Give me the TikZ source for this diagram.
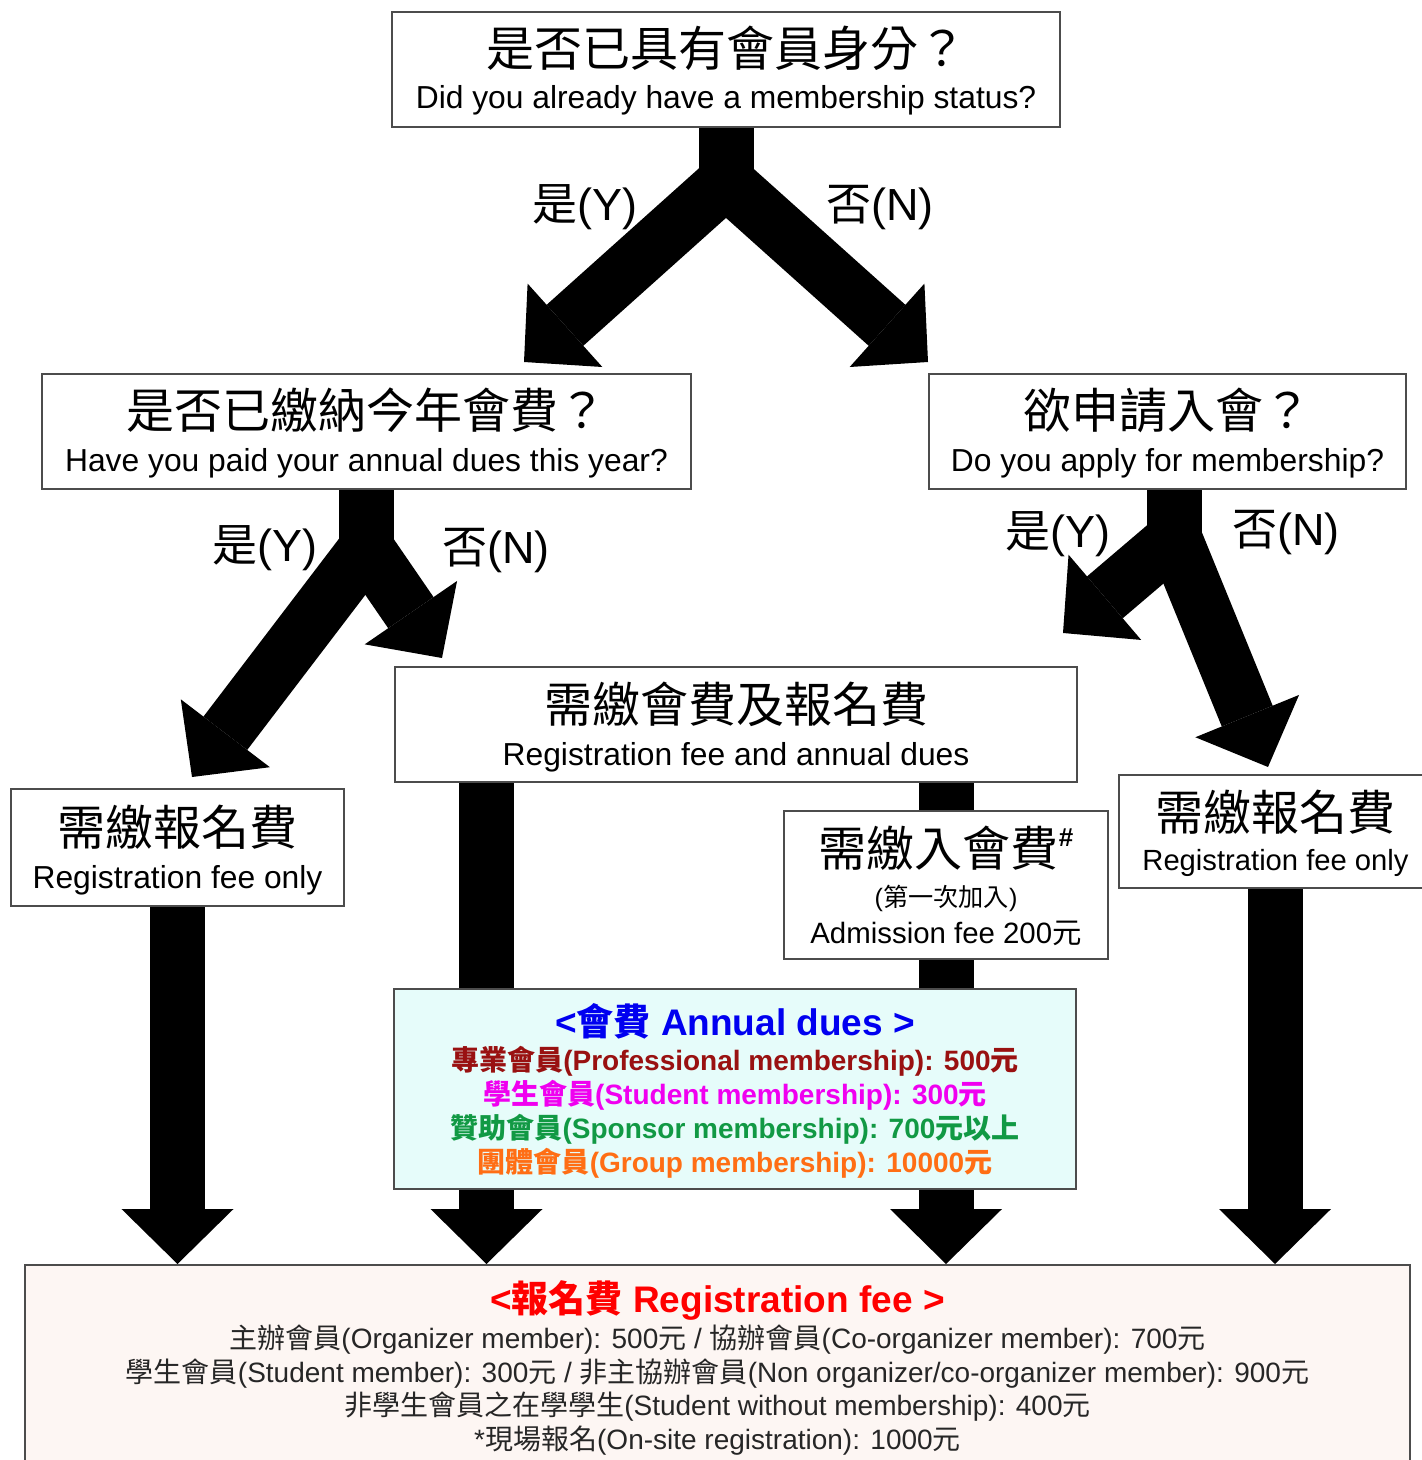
\documentclass[tikz,border=0pt]{standalone}
\usepackage{fontspec}
\setmainfont{Liberation Sans}
\newfontfamily\cjk{Noto Sans CJK TC}
\usetikzlibrary{calc,backgrounds}

\definecolor{duesfill}{RGB}{230,252,250}
\definecolor{regfill}{RGB}{253,246,243}
\definecolor{duesblue}{RGB}{0,0,240}
\definecolor{prored}{RGB}{153,17,17}
\definecolor{stumag}{RGB}{240,0,240}
\definecolor{spogreen}{RGB}{17,153,68}
\definecolor{grporange}{RGB}{255,110,20}
\definecolor{regred}{RGB}{255,0,0}

\newcommand{\zh}[1]{{\cjk #1}}
\newcommand{\fatarrow}[2]{%
	\path ($(#2)!27.5pt!(#1)$) coordinate (hb)
		($(hb)!28pt!90:(#2)$) coordinate (hl)
		($(hb)!28pt!-90:(#2)$) coordinate (hr);
	\draw[shaft] (#1) -- (hb);
	\fill (hl) -- (#2) -- (hr) -- cycle;
}

\begin{document}
\begin{tikzpicture}[x=0.5pt, y=-0.5pt,
	box/.style={draw=black!70, line width=1pt, fill=white, inner sep=0pt},
	zh/.style={font=\cjk\fontsize{24pt}{28pt}\selectfont, anchor=base, inner sep=0pt},
	en/.style={font=\fontsize{15.9pt}{18pt}\selectfont, anchor=base, inner sep=0pt},
	yn/.style={font=\fontsize{22.5pt}{27pt}\selectfont, anchor=base, inner sep=0pt},
	head/.style={font=\bfseries\fontsize{18.5pt}{22pt}\selectfont, anchor=base, inner sep=0pt},
	dues/.style={font=\bfseries\fontsize{14pt}{17pt}\selectfont, anchor=base, inner sep=0pt},
	fee/.style={font=\fontsize{14pt}{17pt}\selectfont, anchor=base, inner sep=0pt, text=black!85},
	shaft/.style={line width=27.5pt}]

	\useasboundingbox (0,0) rectangle (1421,1460);

	\node[box, minimum width=334pt, minimum height=57.5pt] (q1) at (726,69.5) {};
	\node[box, minimum width=324.5pt, minimum height=57.5pt] (q2) at (366.5,431.5) {};
	\node[box, minimum width=238.5pt, minimum height=57.5pt] (q3) at (1167.5,431.5) {};
	\node[box, minimum width=341pt, minimum height=57.5pt] (a4) at (736,724.5) {};
	\node[box, minimum width=166.5pt, minimum height=58.5pt] (a5) at (177.5,847.5) {};
	\node[box, minimum width=162pt, minimum height=74pt] (a6) at (946,885) {};
	\node[box, minimum width=156pt, minimum height=56.5pt] (a7) at (1275,831.5) {};
	\node[box, fill=duesfill, minimum width=341pt, minimum height=100pt] (dues) at (735,1089) {};
	\node[box, fill=regfill, minimum width=692.5pt, minimum height=110pt] (reg) at (717.5,1375) {};

	\begin{scope}[on background layer]
		\fill[white] (0,0) rectangle (1421,1460);
		\coordinate (k1) at (726,181);
		\coordinate (t1y) at (524,362);
		\coordinate (t1n) at (928,362);
		\draw[shaft] (q1.south) -- (k1);
		\fatarrow{k1}{t1y}
		\fatarrow{k1}{t1n}

		\coordinate (k2) at (366.5,548);
		\coordinate (t2y) at (192,777);
		\coordinate (t2n) at (442,658);
		\draw[shaft] (q2.south) -- (k2);
		\fatarrow{k2}{t2y}
		\fatarrow{k2}{t2n}

		\coordinate (s3) at (1174.5,489);
		\coordinate (k3) at (1174.5,538);
		\coordinate (t3y) at (1063,633);
		\coordinate (t3n) at (1268,767);
		\draw[shaft] (s3) -- (k3);
		\fatarrow{k3}{t3y}
		\fatarrow{k3}{t3n}

		\coordinate (s4l) at (486.5,782);
		\coordinate (s4r) at (946,782);
		\foreach \s in {a5.south, s4l, s4r, a7.south}
		{
			\coordinate (t) at (\s |- reg.north);
			\fatarrow{\s}{t}
		}
	\end{scope}

	\node[zh] (q1zh) at (726,67) {是否已具有會員身分？};
	\node[en] (q1en) at (726,109) {Did you already have a membership status?};
	\node[zh] (q2zh) at (366.5,428) {是否已繳納今年會費？};
	\node[en] (q2en) at (366.5,471) {Have you paid your annual dues this year?};
	\node[zh] (q3zh) at (1167.5,428) {欲申請入會？};
	\node[en] (q3en) at (1167.5,471) {Do you apply for membership?};
	\node[zh] (a4zh) at (736,722) {需繳會費及報名費};
	\node[en] (a4en) at (736,765) {Registration fee and annual dues};
	\node[zh] (a5zh) at (177.5,845) {需繳報名費};
	\node[en] (a5en) at (177.5,888) {Registration fee only};
	\node[zh] (a7zh) at (1275,830) {需繳報名費};
	\node[en, font=\fontsize{14.6pt}{17pt}\selectfont] (a7en) at (1275.5,870) {Registration fee only};
	\node[zh] (a6zh) at (946,866) {需繳入會費\raisebox{0.4em}{\normalfont\bfseries\fontsize{13pt}{15pt}\selectfont\#}};
	\node[en, font=\fontsize{12.6pt}{14pt}\selectfont] (a6sub) at (946,906) {(\zh{第一次加入})};
	\node[en, font=\fontsize{14.7pt}{17pt}\selectfont] (a6en) at (946,943) {Admission fee 200\zh{元}};

	\node[yn] (y1) at (585,221) {\zh{是}(Y)};
	\node[yn] (n1) at (880,221) {\zh{否}(N)};
	\node[yn] (y2) at (265,561) {\zh{是}(Y)};
	\node[yn] (n2) at (496,563) {\zh{否}(N)};
	\node[yn] (y3) at (1058,547) {\zh{是}(Y)};
	\node[yn] (n3) at (1286,545) {\zh{否}(N)};

	\node[head, text=duesblue] (duest) at (735,1035) {<\zh{會費} Annual dues >};
	\node[dues, text=prored] (d1) at (735,1070) {\zh{專業會員}(Professional membership): 500\zh{元}};
	\node[dues, text=stumag] (d2) at (735,1104) {\zh{學生會員}(Student membership): 300\zh{元}};
	\node[dues, text=spogreen] (d3) at (735,1138) {\zh{贊助會員}(Sponsor membership): 700\zh{元以上}};
	\node[dues, text=grporange] (d4) at (735,1172) {\zh{團體會員}(Group membership): 10000\zh{元}};

	\node[head, text=regred] (regt) at (717.5,1312) {<\zh{報名費} Registration fee >};
	\node[fee] (r1) at (717.5,1348) {\zh{主辦會員}(Organizer member): 500\zh{元} / \zh{協辦會員}(Co-organizer member): 700\zh{元}};
	\node[fee] (r2) at (717.5,1382) {\zh{學生會員}(Student member): 300\zh{元} / \zh{非主協辦會員}(Non organizer/co-organizer member): 900\zh{元}};
	\node[fee] (r3) at (717.5,1415) {\zh{非學生會員之在學學生}(Student without membership): 400\zh{元}};
	\node[fee] (r4) at (717.5,1449) {*\zh{現場報名}(On-site registration): 1000\zh{元}};

\end{tikzpicture}
\end{document}
